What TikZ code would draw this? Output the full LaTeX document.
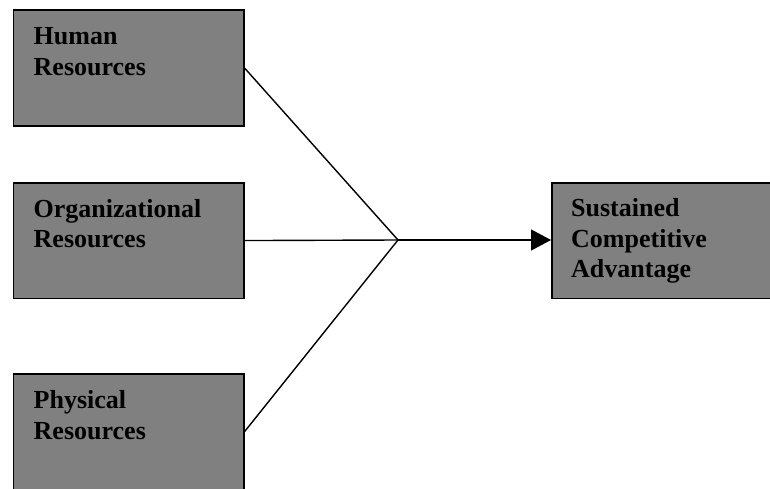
\documentclass[tikz,border=0pt]{standalone}
\usepackage{fontspec}
\setmainfont{Liberation Serif}
\usetikzlibrary{arrows.meta}
\definecolor{boxgray}{HTML}{808080}
\begin{document}
\begin{tikzpicture}[x=1pt,y=-1pt,
  resbox/.style={draw=black,line width=1.6pt,fill=boxgray,rectangle,inner sep=0pt,
    minimum width=230.5pt,minimum height=115.5pt},
  restext/.style={anchor=base west,inner sep=0pt,text width=200pt,align=left,
    font=\fontsize{26}{30.5}\selectfont\bfseries},
  link/.style={line width=1.4pt}]
\useasboundingbox (0,0) rectangle (770,489);
\clip (0,0) rectangle (770,489);
% resource boxes
\node[resbox,anchor=north west] (hr) at (12.5,9.5) {};
\node[resbox,anchor=north west] (org) at (12.5,182) {};
\node[resbox,anchor=north west] (phy) at (12.5,373) {};
\node[resbox,anchor=north west,minimum width=230pt] (sca) at (551,182) {};
% box labels
\node[restext] (hrt) at (33.5,45) {Human\\Resources};
\node[restext] (orgt) at (33.5,217) {Organizational\\Resources};
\node[restext] (phyt) at (33.5,408.5) {Physical\\Resources};
\node[restext] (scat) at (571,216.5) {Sustained\\Competitive\\Advantage};
% converging links
\coordinate (j) at (398,240);
\draw[link] (hr.east) -- (j);
\draw[link] (org.east) -- (j);
\draw[link] (phy.east) -- (j);
\draw[link,-{Triangle[length=20pt,width=21pt]}] (j) -- (j -| sca.west);
\end{tikzpicture}
\end{document}
